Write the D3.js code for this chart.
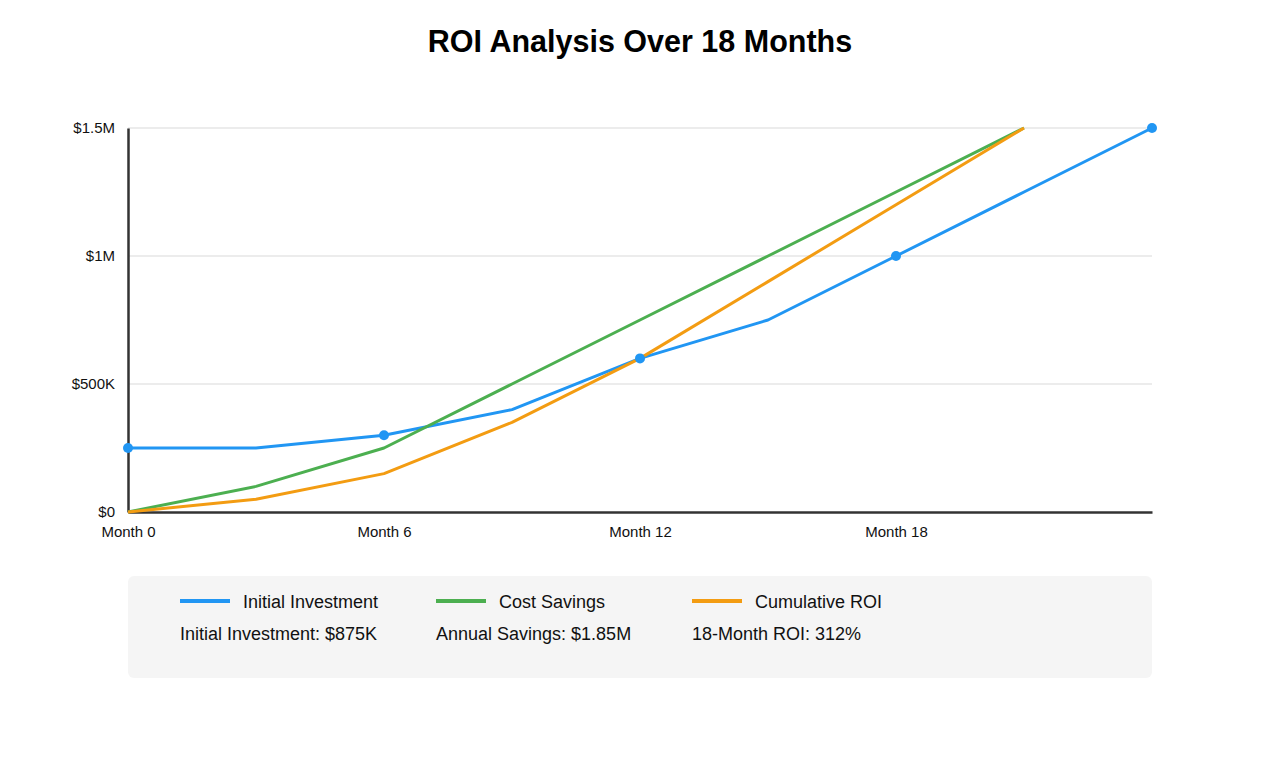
<!DOCTYPE html>
<html>
<head>
<meta charset="utf-8">
<script src="https://cdn.jsdelivr.net/npm/d3@7"></script>
<style>
  body { margin: 0; background: #fff; }
  text { font-family: "Liberation Sans", Arial, sans-serif; }
</style>
</head>
<body>
<svg id="chart" width="1280" height="768"></svg>
<script>
// data
var months = [0, 3, 6, 9, 12, 15, 18, 21, 24];
var investment = [250000, 250000, 300000, 400000, 600000, 750000, 1000000, 1250000, 1500000];
var savings = [0, 100000, 250000, 500000, 750000, 1000000, 1250000, 1500000];
var roi = [0, 50000, 150000, 350000, 600000, 900000, 1200000, 1500000];
var dotMonths = [0, 6, 12, 18, 24];
var xTicks = [0, 6, 12, 18];
var yTicks = [0, 500000, 1000000, 1500000];
var yTickLabels = ["$0", "$500K", "$1M", "$1.5M"];
var seriesNames = ["Initial Investment", "Cost Savings", "Cumulative ROI"];
var summaries = ["Initial Investment: $875K", "Annual Savings: $1.85M", "18-Month ROI: 312%"];
var colors = ["#2196f3", "#4caf50", "#f39c12"];

var svg = d3.select("#chart");
var margin = {left: 128, right: 128, top: 128, bottom: 256};
var width = 1280 - margin.left - margin.right;
var height = 768 - margin.top - margin.bottom;

var x = d3.scaleLinear().domain([0, 24]).range([0, width]);
var y = d3.scaleLinear().domain([0, 1500000]).range([height, 0]);

svg.append("text")
    .attr("x", 640).attr("y", 52)
    .attr("text-anchor", "middle")
    .style("font-size", "30.5px").style("font-weight", "bold")
    .text("ROI Analysis Over 18 Months");

var chart = svg.append("g")
    .attr("transform", "translate(" + margin.left + "," + margin.top + ")");

// grid
chart.append("g").selectAll("line")
    .data(yTicks.slice(1))
    .enter().append("line")
        .attr("x1", 0).attr("x2", width)
        .attr("y1", function(d) { return y(d); })
        .attr("y2", function(d) { return y(d); })
        .attr("style", "stroke:#e6e6e6; stroke-width:1.5");

// y axis
var yAxis = chart.append("g")
    .call(d3.axisLeft(y).tickValues(yTicks)
        .tickFormat(function(d, i) { return yTickLabels[i]; })
        .tickSize(0).tickPadding(13));
yAxis.select(".domain").attr("stroke", "#333").attr("stroke-width", 2.5);
yAxis.selectAll("text").style("font-size", "15px").attr("fill", "#111");

// x axis
var xAxis = chart.append("g")
    .attr("transform", "translate(0," + height + ")")
    .call(d3.axisBottom(x).tickValues(xTicks)
        .tickFormat(function(d) { return "Month " + d; })
        .tickSize(0).tickPadding(14));
xAxis.select(".domain").attr("stroke", "#333").attr("stroke-width", 2.5);
xAxis.selectAll("text").style("font-size", "15px").attr("fill", "#111");

var line = d3.line()
    .x(function(d) { return x(d[0]); })
    .y(function(d) { return y(d[1]); });

[investment, savings, roi].forEach(function(vals, i) {
    var pts = vals.map(function(v, j) { return [months[j], v]; });
    chart.append("path")
        .datum(pts)
        .attr("d", line)
        .attr("fill", "none")
        .attr("stroke", colors[i])
        .attr("stroke-width", 3)
        .attr("stroke-linejoin", "round");
});

// dots on the investment line
chart.append("g").selectAll("circle")
    .data(dotMonths)
    .enter().append("circle")
        .attr("cx", function(d) { return x(d); })
        .attr("cy", function(d) { return y(investment[months.indexOf(d)]); })
        .attr("r", 5)
        .attr("fill", colors[0]);

// legend box
var legend = svg.append("g");
legend.append("rect")
    .attr("x", 128).attr("y", 576)
    .attr("width", 1024).attr("height", 102)
    .attr("rx", 6)
    .attr("fill", "#f5f5f5");

var items = legend.selectAll("g.item")
    .data(seriesNames)
    .enter().append("g")
        .attr("class", "item")
        .attr("transform", function(d, i) { return "translate(" + (180 + i * 256) + ",0)"; });
items.append("line")
    .attr("x1", 0).attr("x2", 50)
    .attr("y1", 601).attr("y2", 601)
    .attr("stroke", function(d, i) { return colors[i]; })
    .attr("stroke-width", 4);
items.append("text")
    .attr("x", 63).attr("y", 608)
    .style("font-size", "18px").attr("fill", "#111")
    .text(function(d) { return d; });
items.append("text")
    .attr("x", 0).attr("y", 640)
    .style("font-size", "18px").attr("fill", "#111")
    .text(function(d, i) { return summaries[i]; });
</script>
</body>
</html>
